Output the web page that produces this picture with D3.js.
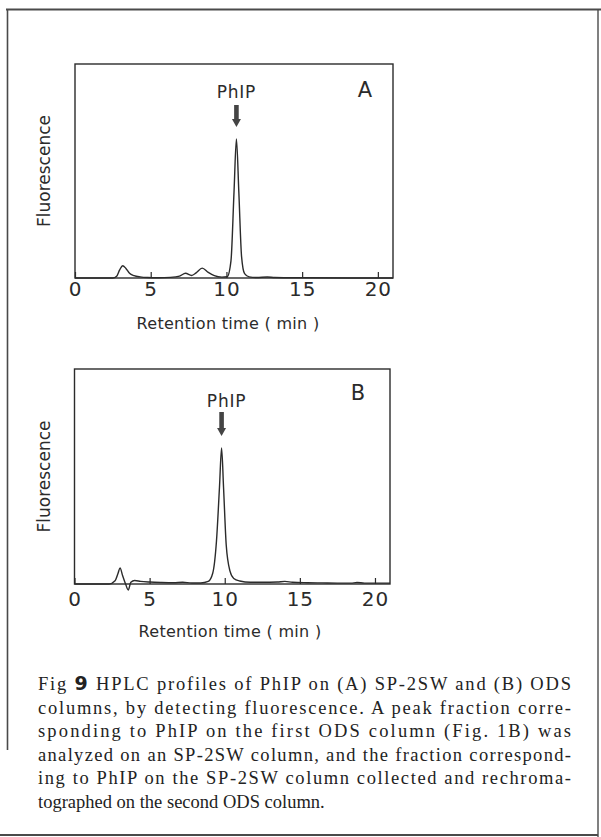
<!DOCTYPE html>
<html>
<head>
<meta charset="utf-8">
<script src="https://cdn.jsdelivr.net/npm/d3@7"></script>
<style>
  body { margin: 0; background: #fff; }
  svg { display: block; }
</style>
</head>
<body>
<svg id="chart" width="601" height="837"></svg>
<script>

// retention time (min) and fluorescence (% of frame height)
let timeA   = [0, 2.5, 2.75, 2.95, 3.15, 3.35, 3.6, 3.9, 4.3, 4.8, 5.5, 6.3, 6.9, 7.3, 7.7, 8.0, 8.4, 8.8, 9.2, 9.7, 10.05, 10.3, 10.5, 10.66, 10.82, 11.0, 11.2, 11.5, 12, 12.7, 13.2, 15, 21]
let signalA = [0, 0, 0.8, 3.8, 5.7, 4.6, 2.2, 1.1, 0.5, 0.2, 0.1, 0.3, 0.9, 2.2, 1.2, 2.4, 4.6, 2.6, 1.1, 0.4, 0.6, 8, 40, 65, 40, 10, 2, 0.5, 0.2, 0.5, 0.2, 0.1, 0]

let timeB   = [0, 2.3, 2.7, 2.9, 3.03, 3.2, 3.4, 3.58, 3.75, 4.0, 4.4, 5, 5.8, 6.6, 7.2, 7.8, 8.4, 8.9, 9.2, 9.45, 9.65, 9.79, 9.92, 10.1, 10.35, 10.6, 11, 11.7, 12.5, 13.5, 14, 14.5, 15.5, 16.5, 17.5, 18.4, 18.8, 19.3, 21]
let signalB = [0, 0, 1.5, 5, 7.5, 4, 0, -2.8, 0.8, 1.6, 1.2, 0.9, 0.7, 0.6, 0.8, 0.5, 0.5, 1.2, 5, 20, 45, 63.3, 45, 18, 6, 2.6, 1.4, 0.8, 0.8, 0.9, 1.2, 0.8, 0.6, 0.5, 0.4, 0.4, 0.7, 0.4, 0.4]

let ticks = [0, 5, 10, 15, 20]
let panelLetters = ["A", "B"]
let peakLabel = "PhIP"
let peakTimes = [10.66, 9.79]
let yLabel = "Fluorescence"
let xLabel = "Retention time ( min )"

let captionLines = [
  "HPLC profiles of PhIP on (A) SP-2SW and (B) ODS",
  "columns, by detecting fluorescence. A peak fraction corre-",
  "sponding to PhIP on the first ODS column (Fig. 1B) was",
  "analyzed on an SP-2SW column, and the fraction correspond-",
  "ing to PhIP on the SP-2SW column collected and rechroma-",
  "tographed on the second ODS column."
]

let svg = d3.select("#chart")
let ink = "#2b2b2b"
let sans = "'DejaVu Sans', sans-serif"

function make_scales(frame) {
  return {
    x: d3.scaleLinear().domain([0, 21]).range([frame.left, frame.right]),
    y: d3.scaleLinear().domain([0, 100]).range([frame.bottom, frame.top])
  }
}

function draw_panel(p) {
  let f = p.frame
  let scales = make_scales(f)
  let g = svg.append("g")

  g.append("rect")
    .attr("x", f.left).attr("y", f.top)
    .attr("width", f.right - f.left).attr("height", f.bottom - f.top)
    .attr("fill", "none").attr("stroke", ink).attr("stroke-width", 1.4)

  let axis = d3.axisBottom(scales.x)
    .tickValues(ticks)
    .tickSizeInner(-6)
    .tickSizeOuter(0)
    .tickPadding(p.tickPad)
  let ax = g.append("g")
    .attr("transform", `translate(0, ${f.bottom})`)
    .call(axis)
  ax.select(".domain").remove()
  ax.selectAll(".tick line").attr("stroke", ink).attr("stroke-width", 1.2)
  ax.selectAll(".tick text")
    .attr("fill", ink)
    .style("font-family", sans)
    .style("font-size", "20px")
    .style("letter-spacing", "1px")

  let points = p.time.map((t, i) => [t, p.signal[i]])
  let line = d3.line()
    .x(d => scales.x(d[0]))
    .y(d => scales.y(d[1]))
    .curve(d3.curveMonotoneX)
  g.append("path")
    .attr("d", line(points))
    .attr("fill", "none")
    .attr("stroke", ink)
    .attr("stroke-width", 1.4)
    .attr("stroke-linejoin", "round")

  // arrow marking the PhIP peak
  let ax0 = scales.x(p.peak)
  let top = f.top + p.arrowTop
  let tip = f.top + p.arrowTip
  g.append("rect")
    .attr("x", ax0 - 2.3).attr("y", top)
    .attr("width", 4.6).attr("height", tip - top - 7)
    .attr("fill", "#444")
  g.append("path")
    .attr("d", `M${ax0 - 4.5},${tip - 8} L${ax0 + 4.5},${tip - 8} L${ax0},${tip} Z`)
    .attr("fill", "#444")

  g.append("text")
    .attr("x", ax0 + p.labelDx).attr("y", f.top + p.labelY)
    .attr("text-anchor", "middle")
    .attr("fill", ink)
    .style("font-family", sans).style("font-size", "17px").style("letter-spacing", "0.8px")
    .text(peakLabel)

  g.append("text")
    .attr("x", f.right - p.letterDx).attr("y", f.top + p.letterY)
    .attr("text-anchor", "middle")
    .attr("fill", ink)
    .style("font-family", sans).style("font-size", "21px")
    .text(p.letter)

  g.append("text")
    .attr("transform", `translate(${f.left - 25}, ${(f.top + f.bottom) / 2}) rotate(-90)`)
    .attr("text-anchor", "middle")
    .attr("fill", ink)
    .style("font-family", sans).style("font-size", "17px")
    .text(yLabel)

  g.append("text")
    .attr("x", p.xLabelX).attr("y", f.bottom + p.xLabelY)
    .attr("text-anchor", "middle")
    .attr("fill", ink)
    .style("font-family", sans).style("font-size", "16px").style("letter-spacing", "0.3px")
    .text(xLabel)
}

function draw_caption() {
  let left = 38, right = 571, base = 690, step = 23.6
  captionLines.forEach((txt, i) => {
    let t = svg.append("text")
      .attr("x", left).attr("y", base + i * step)
      .attr("fill", "#222")
      .style("font-family", "'Liberation Serif', serif")
      .style("font-size", "18.5px")
    if (i === 0) {
      t.append("tspan").text("Fig ")
      t.append("tspan")
        .style("font-family", sans).style("font-weight", "bold").style("font-size", "19px")
        .text("9")
      t.append("tspan").text(" " + txt)
    } else {
      t.text(txt)
    }
    if (i < captionLines.length - 1) {
      t.attr("textLength", right - left).attr("lengthAdjust", "spacing")
    }
  })
}

function draw_border() {
  let b = svg.append("g").attr("stroke", "#4a4a4a").attr("fill", "none")
  b.append("line").attr("x1", 6).attr("x2", 601).attr("y1", 9.5).attr("y2", 9.5).attr("stroke-width", 2.2)
  b.append("line").attr("x1", 7.5).attr("x2", 7.5).attr("y1", 9).attr("y2", 750).attr("stroke-width", 1.6)
  b.append("line").attr("x1", 598).attr("x2", 598).attr("y1", 9).attr("y2", 837).attr("stroke-width", 1.4)
  b.append("line").attr("x1", 0).attr("x2", 598).attr("y1", 835).attr("y2", 835).attr("stroke-width", 2)
}

let panels = [
  { letter: panelLetters[0], time: timeA, signal: signalA, peak: peakTimes[0],
    frame: {left: 75, right: 393, top: 64, bottom: 278},
    tickPad: 4, arrowTop: 41, arrowTip: 63, labelY: 34, labelDx: 0,
    letterDx: 28, letterY: 33, xLabelX: 228, xLabelY: 51 },
  { letter: panelLetters[1], time: timeB, signal: signalB, peak: peakTimes[1],
    frame: {left: 74.5, right: 390, top: 369, bottom: 584},
    tickPad: 8, arrowTop: 43, arrowTip: 67, labelY: 38, labelDx: 5,
    letterDx: 32, letterY: 31, xLabelX: 230, xLabelY: 53 }
]

draw_border()
panels.forEach(draw_panel)
draw_caption()

</script>
</body>
</html>
